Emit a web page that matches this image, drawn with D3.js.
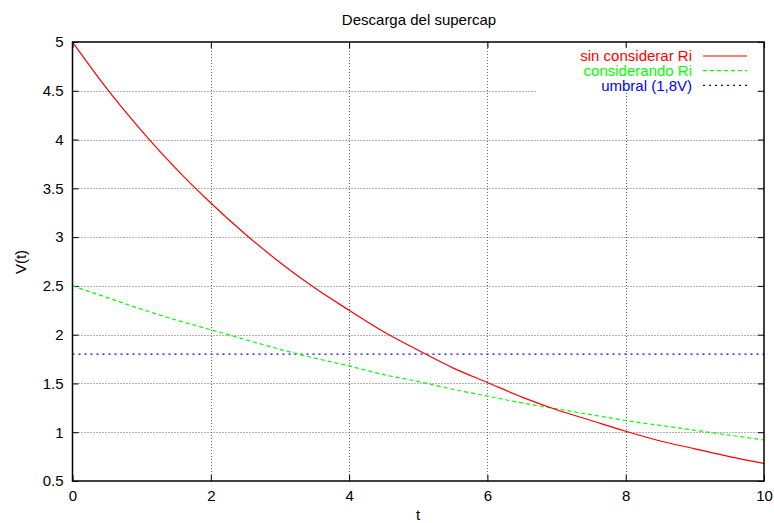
<!DOCTYPE html>
<html>
<head>
<meta charset="utf-8">
<script src="https://cdn.jsdelivr.net/npm/d3@7"></script>
<style>
  body { margin: 0; background: #fff; }
  text { font-family: "Liberation Sans", Arial, sans-serif; }
</style>
</head>
<body>
<script>
// Chart size
const width = 774;
const height = 523;
const margin = {top: 42, right: 10, bottom: 42, left: 72.5};
const fontSize = 15;

// Data
var t = [0, 0.5, 1, 1.5, 2, 2.5, 3, 3.5, 4, 4.5, 5, 5.5, 6, 6.5, 7, 7.5, 8, 8.5, 9, 9.5, 10];
var sinRi = [5, 4.52, 4.09, 3.70, 3.35, 3.03, 2.74, 2.48, 2.25, 2.03, 1.84, 1.66, 1.51, 1.36, 1.23, 1.12, 1.01, 0.91, 0.83, 0.75, 0.68];
var conRi = [2.5, 2.38, 2.26, 2.15, 2.05, 1.95, 1.85, 1.76, 1.68, 1.59, 1.52, 1.44, 1.37, 1.30, 1.24, 1.18, 1.12, 1.07, 1.02, 0.97, 0.92];
var umbral = [1.8, 1.8];
var umbralT = [0, 10];
var xTicks = [0, 2, 4, 6, 8, 10];
var yTicks = [0.5, 1, 1.5, 2, 2.5, 3, 3.5, 4, 4.5, 5];
var labels = ["sin considerar Ri", "considerando Ri", "umbral (1,8V)"];

var svg = d3.select("body")
    .append("svg")
    .attr("width", width)
    .attr("height", height);

// Scales
var x = d3.scaleLinear()
    .domain([0, 10])
    .range([margin.left, width - margin.right]);
var y = d3.scaleLinear()
    .domain([0.5, 5])
    .range([height - margin.bottom, margin.top]);

// Grid lines (dotted)
var grid = svg.append("g")
    .attr("stroke", "#666")
    .attr("stroke-width", 1)
    .attr("stroke-dasharray", "1,2");
grid.selectAll(".gx")
    .data(xTicks.slice(1, -1))
    .enter().append("line")
    .attr("x1", d => Math.round(x(d)) + 0.5)
    .attr("x2", d => Math.round(x(d)) + 0.5)
    .attr("y1", y(0.5))
    .attr("y2", y(5));
grid.selectAll(".gy")
    .data(yTicks.slice(1, -1))
    .enter().append("line")
    .attr("x1", x(0))
    .attr("x2", x(10))
    .attr("y1", d => Math.round(y(d)) + 0.5)
    .attr("y2", d => Math.round(y(d)) + 0.5);

// Key box blanks the grid behind it
svg.append("rect")
    .attr("x", 536)
    .attr("y", 48)
    .attr("width", 221)
    .attr("height", 45)
    .attr("fill", "#fff");

// Axes: labels outside, ticks drawn inward on all four sides
var axisBottom = d3.axisBottom(x).tickValues(xTicks).tickSize(-6).tickPadding(9).tickFormat(d3.format("d"));
var axisTop = d3.axisTop(x).tickValues(xTicks).tickSize(-6).tickFormat("");
var axisLeft = d3.axisLeft(y).tickValues(yTicks).tickSize(-6).tickPadding(9).tickFormat(d => String(d));
var axisRight = d3.axisRight(y).tickValues(yTicks).tickSize(-6).tickFormat("");

function styleAxis(g) {
  g.select(".domain").remove();
  g.selectAll("line").attr("stroke", "#000");
  g.selectAll("text").attr("font-size", fontSize).attr("fill", "#000")
    .attr("font-family", "Liberation Sans, Arial, sans-serif");
}

svg.append("g").attr("transform", `translate(0, ${y(0.5)})`).call(axisBottom).call(styleAxis);
svg.append("g").attr("transform", `translate(0, ${y(5)})`).call(axisTop).call(styleAxis);
svg.append("g").attr("transform", `translate(${x(0)}, 0)`).call(axisLeft).call(styleAxis);
svg.append("g").attr("transform", `translate(${x(10)}, 0)`).call(axisRight).call(styleAxis);

// Series
var line = d3.line()
    .x(d => x(d[0]))
    .y(d => y(d[1]))
    .curve(d3.curveMonotoneX);

var plot = svg.append("g").attr("fill", "none").attr("stroke-width", 1.2);
plot.append("path")
    .attr("d", line(d3.zip(umbralT, umbral)))
    .attr("stroke", "#0000ff")
    .attr("stroke-dasharray", "2,4");
plot.append("path")
    .attr("d", line(d3.zip(t, conRi)))
    .attr("stroke", "#00ff00")
    .attr("stroke-dasharray", "4,3");
plot.append("path")
    .attr("d", line(d3.zip(t, sinRi)))
    .attr("stroke", "#ff0000");

// Border
svg.append("rect")
    .attr("x", x(0))
    .attr("y", y(5))
    .attr("width", x(10) - x(0))
    .attr("height", y(0.5) - y(5))
    .attr("fill", "none")
    .attr("stroke", "#000")
    .attr("stroke-width", 1.5);

// Key
var colors = ["#ff0000", "#00ff00", "#0000ff"];
var dashes = [null, "4,3", "2,4"];
var key = svg.append("g");
labels.forEach(function(l, i) {
  var ky = 56 + i * 14.7;
  key.append("text")
      .attr("x", 692)
      .attr("y", ky)
      .attr("dy", "0.35em")
      .attr("text-anchor", "end")
      .attr("font-size", fontSize)
      .attr("fill", colors[i])
      .text(l);
  key.append("line")
      .attr("x1", 703)
      .attr("x2", 747)
      .attr("y1", ky)
      .attr("y2", ky)
      .attr("stroke", colors[i])
      .attr("stroke-width", 1.2)
      .attr("stroke-dasharray", dashes[i]);
});

// Title and axis labels
svg.append("text")
    .attr("x", 419)
    .attr("y", 25)
    .attr("text-anchor", "middle")
    .attr("font-size", fontSize)
    .text("Descarga del supercap");
svg.append("text")
    .attr("x", 418)
    .attr("y", 520)
    .attr("text-anchor", "middle")
    .attr("font-size", fontSize)
    .text("t");
svg.append("text")
    .attr("transform", "translate(26, 262) rotate(-90)")
    .attr("text-anchor", "middle")
    .attr("font-size", fontSize)
    .text("V(t)");
</script>
</body>
</html>
